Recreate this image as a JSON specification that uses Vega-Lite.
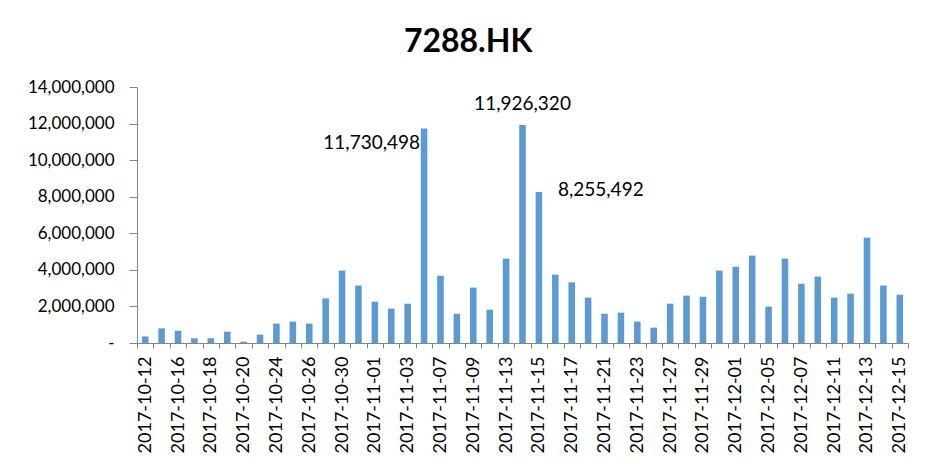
{
  "$schema": "https://vega.github.io/schema/vega-lite/v6.json",
  "autosize": "none",
  "width": 771,
  "height": 256,
  "padding": {"left": 137, "top": 87, "right": 24, "bottom": 125},
  "background": "white",
  "title": {
    "text": "7288.HK",
    "font": "Lato",
    "fontSize": 32,
    "fontWeight": "bold",
    "color": "black",
    "anchor": "middle",
    "frame": "bounds",
    "offset": 19
  },
  "data": {
    "values": [
      {"date": "2017-10-12", "volume": 360000},
      {"date": "2017-10-13", "volume": 800000},
      {"date": "2017-10-16", "volume": 670000},
      {"date": "2017-10-17", "volume": 260000},
      {"date": "2017-10-18", "volume": 260000},
      {"date": "2017-10-19", "volume": 620000},
      {"date": "2017-10-20", "volume": 70000},
      {"date": "2017-10-23", "volume": 460000},
      {"date": "2017-10-24", "volume": 1060000},
      {"date": "2017-10-25", "volume": 1170000},
      {"date": "2017-10-26", "volume": 1060000},
      {"date": "2017-10-27", "volume": 2440000},
      {"date": "2017-10-30", "volume": 3960000},
      {"date": "2017-10-31", "volume": 3140000},
      {"date": "2017-11-01", "volume": 2260000},
      {"date": "2017-11-02", "volume": 1880000},
      {"date": "2017-11-03", "volume": 2150000},
      {"date": "2017-11-06", "volume": 11730498},
      {"date": "2017-11-07", "volume": 3680000},
      {"date": "2017-11-08", "volume": 1600000},
      {"date": "2017-11-09", "volume": 3030000},
      {"date": "2017-11-10", "volume": 1820000},
      {"date": "2017-11-13", "volume": 4610000},
      {"date": "2017-11-14", "volume": 11926320},
      {"date": "2017-11-15", "volume": 8255492},
      {"date": "2017-11-16", "volume": 3740000},
      {"date": "2017-11-17", "volume": 3320000},
      {"date": "2017-11-20", "volume": 2480000},
      {"date": "2017-11-21", "volume": 1600000},
      {"date": "2017-11-22", "volume": 1660000},
      {"date": "2017-11-23", "volume": 1170000},
      {"date": "2017-11-24", "volume": 840000},
      {"date": "2017-11-27", "volume": 2150000},
      {"date": "2017-11-28", "volume": 2590000},
      {"date": "2017-11-29", "volume": 2530000},
      {"date": "2017-11-30", "volume": 3960000},
      {"date": "2017-12-01", "volume": 4170000},
      {"date": "2017-12-04", "volume": 4780000},
      {"date": "2017-12-05", "volume": 1990000},
      {"date": "2017-12-06", "volume": 4610000},
      {"date": "2017-12-07", "volume": 3240000},
      {"date": "2017-12-08", "volume": 3630000},
      {"date": "2017-12-11", "volume": 2480000},
      {"date": "2017-12-12", "volume": 2700000},
      {"date": "2017-12-13", "volume": 5760000},
      {"date": "2017-12-14", "volume": 3140000},
      {"date": "2017-12-15", "volume": 2640000}
    ]
  },
  "encoding": {
    "x": {
      "field": "date",
      "type": "ordinal",
      "sort": null,
      "scale": {"paddingInner": 0, "paddingOuter": 0},
      "axis": {
        "title": null,
        "labelAngle": -90,
        "labelFontSize": 18,
        "labelPadding": 8,
        "tickSize": 5,
        "tickBand": "extent",
        "labelExpr": "round(datum.index * 46) % 2 == 0 ? datum.label : ''"
      }
    },
    "y": {
      "field": "volume",
      "type": "quantitative",
      "scale": {"domain": [0, 14000000]},
      "axis": {
        "title": null,
        "values": [0, 2000000, 4000000, 6000000, 8000000, 10000000, 12000000, 14000000],
        "labelFontSize": 17,
        "labelPadding": 15,
        "tickSize": 8,
        "labelExpr": "datum.value == 0 ? '-   ' : format(datum.value, ',')"
      }
    }
  },
  "layer": [
    {
      "mark": {"type": "bar", "color": "#5B9BD5", "width": {"band": 0.4}}
    },
    {
      "transform": [{"filter": {"field": "date", "equal": "2017-11-06"}}],
      "mark": {"type": "text", "align": "right", "baseline": "alphabetic", "dx": -4, "dy": 21, "fontSize": 19, "color": "black"},
      "encoding": {"text": {"field": "volume", "type": "quantitative", "format": ","}}
    },
    {
      "transform": [{"filter": {"field": "date", "equal": "2017-11-14"}}],
      "mark": {"type": "text", "align": "center", "baseline": "alphabetic", "dy": -15, "fontSize": 19, "color": "black"},
      "encoding": {"text": {"field": "volume", "type": "quantitative", "format": ","}}
    },
    {
      "transform": [{"filter": {"field": "date", "equal": "2017-11-15"}}],
      "mark": {"type": "text", "align": "left", "baseline": "alphabetic", "dx": 19, "dy": 4, "fontSize": 19, "color": "black"},
      "encoding": {"text": {"field": "volume", "type": "quantitative", "format": ","}}
    }
  ],
  "config": {
    "font": "Lato",
    "view": {"stroke": null},
    "axis": {
      "grid": false,
      "domainColor": "#868686",
      "tickColor": "#868686",
      "labelColor": "black",
      "labelFont": "Lato"
    }
  }
}
